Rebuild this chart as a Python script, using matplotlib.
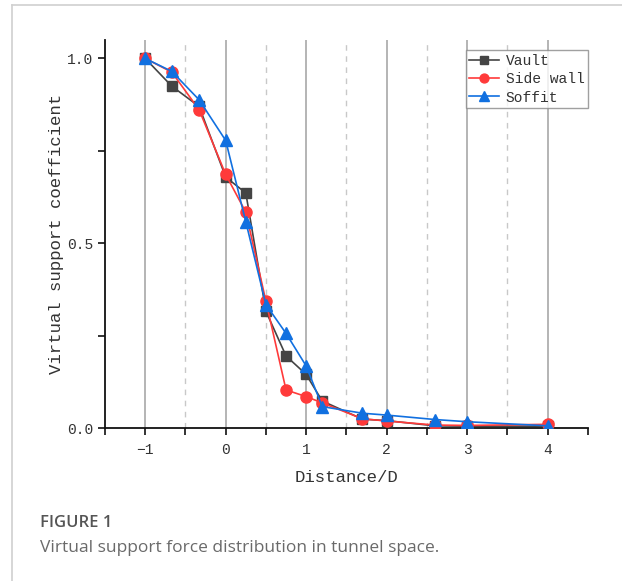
import numpy as np
import matplotlib
matplotlib.use("Agg")
import matplotlib.pyplot as plt
from matplotlib.lines import Line2D
from matplotlib.ticker import MultipleLocator

# Data
distance = [-1, -0.67, -0.33, 0, 0.25, 0.5, 0.75, 1, 1.2, 1.7, 2, 2.6, 3, 4]
vault = [1.0, 0.925, 0.87, 0.679, 0.636, 0.316, 0.195, 0.145, 0.073, 0.024, 0.02, 0.006, 0.005, 0.005]
side_wall = [1.0, 0.963, 0.861, 0.686, 0.584, 0.343, 0.103, 0.085, 0.068, 0.025, 0.019, 0.008, 0.007, 0.01]
soffit = [1.0, 0.965, 0.888, 0.778, 0.558, 0.334, 0.256, 0.168, 0.058, 0.04, 0.035, 0.023, 0.017, 0.006]

series_names = ["Vault", "Side wall", "Soffit"]
x_major = [-1, 0, 1, 2, 3, 4]
x_minor = [-0.5, 0.5, 1.5, 2.5, 3.5]

MONO = ["Liberation Mono", "DejaVu Sans Mono"]
TEXT = "#333333"

fig = plt.figure(figsize=(6.22, 5.81), dpi=100)
ax = fig.add_axes([0.1688, 0.2633, 0.945 - 0.1688, 0.9312 - 0.2633])

# vertical grid: solid at integers, dashed at halves
for xv in x_major:
    ax.axvline(xv, color="#a8a8a8", lw=1.2, zorder=0)
for xv in x_minor:
    ax.axvline(xv, color="#c8c8c8", lw=1.0, ls=(0, (4, 4)), zorder=0)

ax.plot(distance, vault, color="#444444", marker="s", ms=7, lw=1.2, label=series_names[0], zorder=3)
ax.plot(distance, side_wall, color="#ff3a3a", marker="o", ms=8, lw=1.2, label=series_names[1], zorder=4)
ax.plot(distance, soffit, color="#1170e0", marker="^", ms=8.5, lw=1.2, label=series_names[2], zorder=5)

ax.set_xlim(-1.5, 4.5)
ax.set_ylim(0, 1.05)
ax.xaxis.set_major_locator(MultipleLocator(1))
ax.xaxis.set_minor_locator(MultipleLocator(0.5))
ax.yaxis.set_minor_locator(MultipleLocator(0.25))
ax.set_yticks([0, 0.5, 1.0])
ax.set_yticklabels(["0.0", "0.5", "1.0"])

for s in ["top", "right"]:
    ax.spines[s].set_visible(False)
for s in ["left", "bottom"]:
    ax.spines[s].set_linewidth(1.3)
    ax.spines[s].set_color("#111111")

ax.tick_params(which="both", direction="out", length=5, width=1.2, color="#111111",
               labelsize=10.5, labelcolor=TEXT)
ax.tick_params(axis="x", pad=6)
for lab in ax.get_xticklabels() + ax.get_yticklabels():
    lab.set_family(MONO)

ax.set_xlabel("Distance/D", family=MONO, fontsize=12.5, color=TEXT, labelpad=9)
ax.set_ylabel("Virtual support coefficient", family=MONO, fontsize=12.5, color=TEXT, labelpad=2)

leg = ax.legend(loc="upper right", bbox_to_anchor=(1.01, 0.985), fancybox=False, edgecolor="#888888",
                prop={"family": MONO, "size": 10.5}, handlelength=2.0, borderpad=0.25,
                labelspacing=0.3, handletextpad=0.5, borderaxespad=0.3, markerscale=0.8)
leg.get_frame().set_linewidth(1.0)
for t in leg.get_texts():
    t.set_color(TEXT)

# card border
fig.add_artist(Line2D([12 / 622, 1], [1 - 5 / 581, 1 - 5 / 581], color="#d0d0d0", lw=1.2))
fig.add_artist(Line2D([12 / 622, 12 / 622], [0, 1 - 5 / 581], color="#d0d0d0", lw=1.2))

fig.text(40 / 622, 1 - 523 / 581, "FIGURE 1", family=["Open Sans", "DejaVu Sans"], fontsize=12,
         fontweight="semibold", color="#555555", va="center")
fig.text(40 / 622, 1 - 548 / 581, "Virtual support force distribution in tunnel space.",
         family=["Open Sans", "DejaVu Sans"], fontsize=12.5, color="#6a6a6a", va="center")

fig.savefig("out.png", dpi=100)
